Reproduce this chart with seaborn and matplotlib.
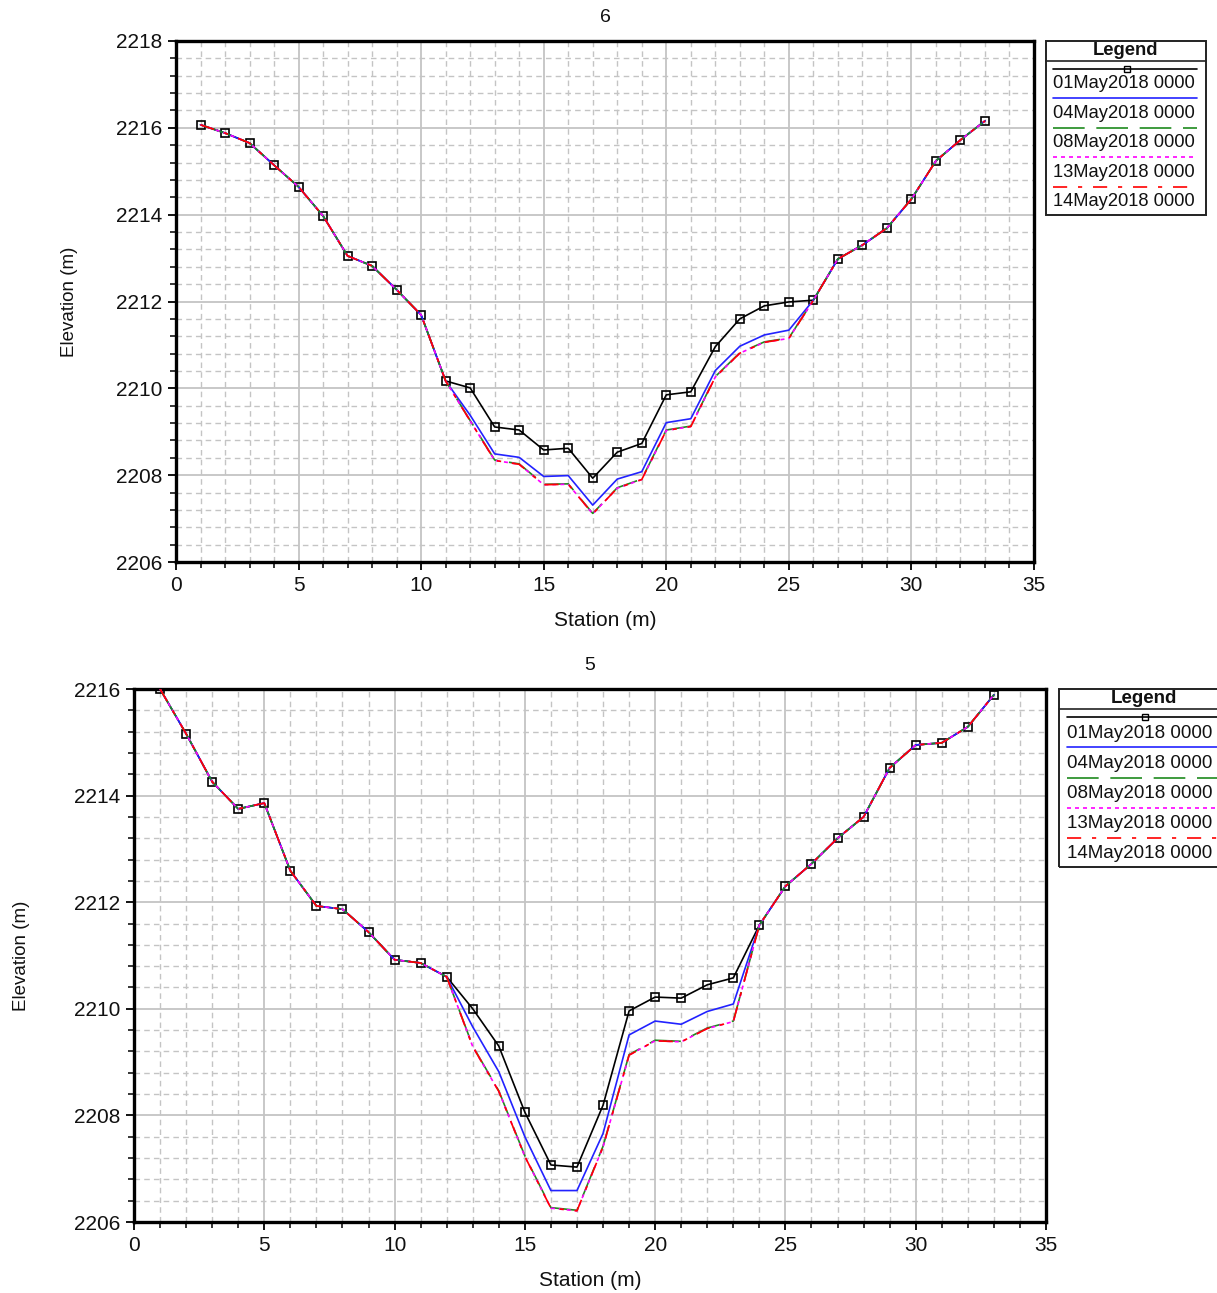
import matplotlib
matplotlib.use("Agg")
import matplotlib.pyplot as plt
from matplotlib.ticker import MultipleLocator, FormatStrFormatter
from matplotlib.patches import Rectangle
import numpy as np
import pandas as pd
import seaborn as sns

# ---------------------------------------------------------------------------
# Cross-section profiles: bed elevation (m) against station (m)
# ---------------------------------------------------------------------------
stations = list(range(1, 34))

dates = ["01May2018 0000", "04May2018 0000", "08May2018 0000",
         "13May2018 0000", "14May2018 0000"]

# Section 6
sec6_may01 = [2216.07, 2215.88, 2215.65, 2215.14, 2214.64, 2213.97, 2213.05,
              2212.82, 2212.27, 2211.69, 2210.17, 2210.01, 2209.11, 2209.04,
              2208.58, 2208.62, 2207.93, 2208.53, 2208.73, 2209.85, 2209.92,
              2210.96, 2211.60, 2211.90, 2211.99, 2212.03, 2212.98, 2213.30,
              2213.69, 2214.36, 2215.24, 2215.72, 2216.16]
sec6_may04 = [2216.07, 2215.88, 2215.65, 2215.14, 2214.64, 2213.97, 2213.05,
              2212.82, 2212.27, 2211.69, 2210.17, 2209.38, 2208.49, 2208.41,
              2207.97, 2207.99, 2207.31, 2207.91, 2208.08, 2209.21, 2209.30,
              2210.41, 2210.97, 2211.23, 2211.34, 2212.03, 2212.98, 2213.30,
              2213.69, 2214.36, 2215.24, 2215.72, 2216.16]
sec6_may08 = [2216.07, 2215.88, 2215.65, 2215.14, 2214.64, 2213.97, 2213.05,
              2212.82, 2212.27, 2211.69, 2210.17, 2209.26, 2208.35, 2208.26,
              2207.79, 2207.80, 2207.12, 2207.71, 2207.91, 2209.04, 2209.13,
              2210.27, 2210.82, 2211.07, 2211.16, 2212.03, 2212.98, 2213.30,
              2213.69, 2214.36, 2215.24, 2215.72, 2216.16]
sec6_may13 = [2216.07, 2215.88, 2215.65, 2215.14, 2214.64, 2213.97, 2213.05,
              2212.82, 2212.27, 2211.69, 2210.17, 2209.25, 2208.34, 2208.25,
              2207.78, 2207.79, 2207.11, 2207.70, 2207.90, 2209.03, 2209.12,
              2210.26, 2210.81, 2211.06, 2211.15, 2212.03, 2212.98, 2213.30,
              2213.69, 2214.36, 2215.24, 2215.72, 2216.16]
sec6_may14 = [2216.07, 2215.88, 2215.65, 2215.14, 2214.64, 2213.97, 2213.05,
              2212.82, 2212.27, 2211.69, 2210.17, 2209.25, 2208.34, 2208.25,
              2207.78, 2207.79, 2207.11, 2207.70, 2207.90, 2209.03, 2209.12,
              2210.26, 2210.81, 2211.06, 2211.15, 2212.03, 2212.98, 2213.30,
              2213.69, 2214.36, 2215.24, 2215.72, 2216.16]

# Section 5
sec5_may01 = [2216.00, 2215.16, 2214.26, 2213.75, 2213.86, 2212.59, 2211.93,
              2211.87, 2211.44, 2210.92, 2210.86, 2210.60, 2210.00, 2209.30,
              2208.06, 2207.07, 2207.03, 2208.19, 2209.96, 2210.22, 2210.20,
              2210.45, 2210.58, 2211.57, 2212.30, 2212.72, 2213.20, 2213.60,
              2214.52, 2214.95, 2214.99, 2215.29, 2215.89]
sec5_may04 = [2216.00, 2215.16, 2214.26, 2213.75, 2213.86, 2212.59, 2211.93,
              2211.87, 2211.44, 2210.92, 2210.86, 2210.60, 2209.66, 2208.82,
              2207.60, 2206.59, 2206.59, 2207.66, 2209.51, 2209.77, 2209.71,
              2209.95, 2210.09, 2211.57, 2212.30, 2212.72, 2213.20, 2213.60,
              2214.52, 2214.95, 2214.99, 2215.29, 2215.89]
sec5_may08 = [2216.00, 2215.16, 2214.26, 2213.75, 2213.86, 2212.59, 2211.93,
              2211.87, 2211.44, 2210.92, 2210.86, 2210.60, 2209.30, 2208.46,
              2207.24, 2206.27, 2206.22, 2207.42, 2209.14, 2209.41, 2209.39,
              2209.64, 2209.77, 2211.57, 2212.30, 2212.72, 2213.20, 2213.60,
              2214.52, 2214.95, 2214.99, 2215.29, 2215.89]
sec5_may13 = [2216.00, 2215.16, 2214.26, 2213.75, 2213.86, 2212.59, 2211.93,
              2211.87, 2211.44, 2210.92, 2210.86, 2210.60, 2209.29, 2208.45,
              2207.23, 2206.26, 2206.21, 2207.41, 2209.13, 2209.40, 2209.38,
              2209.63, 2209.76, 2211.57, 2212.30, 2212.72, 2213.20, 2213.60,
              2214.52, 2214.95, 2214.99, 2215.29, 2215.89]
sec5_may14 = [2216.00, 2215.16, 2214.26, 2213.75, 2213.86, 2212.59, 2211.93,
              2211.87, 2211.44, 2210.92, 2210.86, 2210.60, 2209.29, 2208.45,
              2207.23, 2206.26, 2206.21, 2207.41, 2209.13, 2209.40, 2209.38,
              2209.63, 2209.76, 2211.57, 2212.30, 2212.72, 2213.20, 2213.60,
              2214.52, 2214.95, 2214.99, 2215.29, 2215.89]

# ---------------------------------------------------------------------------
# Styling
# ---------------------------------------------------------------------------
sns.set_theme(style="white")
plt.rcParams["font.family"] = ["Liberation Sans", "DejaVu Sans"]
plt.rcParams["axes.unicode_minus"] = False

LINE_W = 1.2
series_styles = [
    dict(color="#000000", linestyle="-", marker="s", markersize=6,
         markerfacecolor="none", markeredgecolor="#000000", markeredgewidth=1.2),
    dict(color="#2222ff", linestyle="-"),
    dict(color="#1e8a1e", linestyle=(0, (19, 7))),
    dict(color="#ff00ff", linestyle=(0, (2.4, 2.4))),
    dict(color="#ff0000", linestyle=(0, (8.5, 6.5, 2.5, 6.5))),
]
marker_keys = ("marker", "markersize", "markerfacecolor",
               "markeredgecolor", "markeredgewidth")

W, H = 1217, 1293
fig = plt.figure(figsize=(W / 100, H / 100), dpi=100)


def frac_rect(left, top, right, bottom):
    """Pixel box -> figure fraction rect."""
    return [left / W, 1 - bottom / H, (right - left) / W, (bottom - top) / H]


def draw_section(rect, title, profiles, ylim, label_x, label_y, title_y):
    ax = fig.add_axes(rect)
    for vals, date, style in zip(profiles, dates, series_styles):
        df = pd.DataFrame({"Station": stations, "Elevation": vals})
        sns.lineplot(data=df, x="Station", y="Elevation", ax=ax,
                     linewidth=LINE_W, sort=False, zorder=3, **style)
    ax.set_xlim(0, 35)
    ax.set_ylim(*ylim)
    ax.xaxis.set_major_locator(MultipleLocator(5))
    ax.xaxis.set_minor_locator(MultipleLocator(1))
    ax.yaxis.set_major_locator(MultipleLocator(2))
    ax.yaxis.set_minor_locator(MultipleLocator(0.4))
    ax.yaxis.set_major_formatter(FormatStrFormatter("%d"))

    ax.grid(which="major", color="#c4c4c4", linewidth=1.3, linestyle="-", zorder=0)
    ax.grid(which="minor", color="#c4c4c4", linewidth=1.0,
            linestyle=(0, (4, 3)), zorder=0)
    ax.set_axisbelow(True)

    for sp in ax.spines.values():
        sp.set_visible(True)
        sp.set_color("black")
        sp.set_linewidth(2.4)
    ax.tick_params(which="major", direction="out", length=6, width=1.3,
                   color="black", labelsize=15, pad=4, labelcolor="#111111",
                   bottom=True, left=True)
    ax.tick_params(which="minor", direction="out", length=4, width=1.1,
                   color="black", bottom=True, left=True)

    ax.set_xlabel("Station (m)", fontsize=15, color="#111111")
    ax.xaxis.set_label_coords(0.5, label_x)
    ax.xaxis.label.set_verticalalignment("center")
    ax.set_ylabel("Elevation (m)", fontsize=13.5, color="#111111")
    ax.yaxis.set_label_coords(label_y, 0.5)
    ax.yaxis.label.set_verticalalignment("center")
    ax.set_title(title, fontsize=14, color="#111111", y=title_y, va="center",
                 pad=0)
    return ax


def draw_legend(rect, fontsize):
    lax = fig.add_axes(rect)
    lax.set_xlim(0, 1)
    lax.set_ylim(1, 0)
    lax.axis("off")
    lax.add_patch(Rectangle((0.004, 0.004), 0.992, 0.992, transform=lax.transAxes,
                            fill=False, edgecolor="#222222", linewidth=1.4,
                            clip_on=False))
    lax.text(0.5, 0.058, "Legend", ha="center", va="center",
             fontsize=fontsize, fontweight="bold", color="#111111")
    lax.plot([0.004, 0.996], [0.118, 0.118], color="#222222", linewidth=1.2,
             clip_on=False)
    step = 0.1675
    for i, (date, style) in enumerate(zip(dates, series_styles)):
        y_line = 0.163 + step * i
        y_text = 0.250 + step * i
        line_style = {k: v for k, v in style.items() if k not in marker_keys}
        lax.plot([0.05, 0.94], [y_line, y_line], linewidth=LINE_W,
                 clip_on=False, **line_style)
        if "marker" in style:
            lax.plot([0.506], [y_line], linestyle="none", marker="s",
                     markersize=4.5, markerfacecolor="none",
                     markeredgecolor="black", markeredgewidth=1.0, clip_on=False)
        lax.text(0.05, y_text, date, ha="left", va="center",
                 fontsize=fontsize, color="#111111")
    return lax


# Upper panel: section 6
draw_section(frac_rect(176, 41, 1034, 562), "6",
             [sec6_may01, sec6_may04, sec6_may08, sec6_may13, sec6_may14],
             (2206, 2218), label_x=-59 / 521, label_y=-106 / 858,
             title_y=1 + 23 / 521)
draw_legend(frac_rect(1045, 40, 1207, 216), 13.2)

# Lower panel: section 5
draw_section(frac_rect(134, 689, 1046, 1222), "5",
             [sec5_may01, sec5_may04, sec5_may08, sec5_may13, sec5_may14],
             (2206, 2216), label_x=-59 / 533, label_y=-112 / 912,
             title_y=1 + 24 / 533)
draw_legend(frac_rect(1058, 688, 1230, 868), 13.5)

fig.savefig("out.png", dpi=100, facecolor="white")
